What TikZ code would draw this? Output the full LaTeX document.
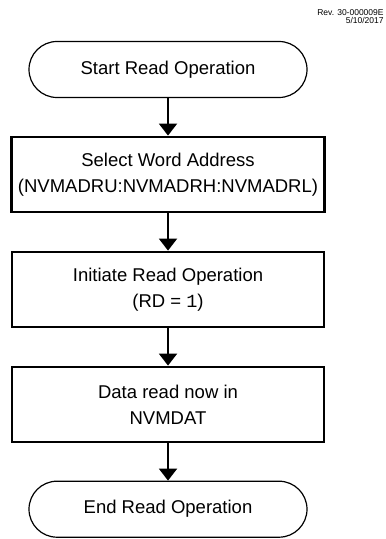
\documentclass[tikz,border=0pt]{standalone}
\usepackage{fontspec}
\setmainfont{Liberation Sans}
\newfontfamily\codefont{Liberation Mono}
\usetikzlibrary{shapes,arrows.meta,positioning}

\begin{document}
\begin{tikzpicture}[node distance=18.75pt,
    term/.style={rectangle, draw, line width=0.6pt, rounded corners=14pt, minimum width=139pt, minimum height=28pt, font=\fontsize{9.25}{13}\selectfont},
    proc/.style={rectangle, draw, line width=1.25pt, minimum width=156pt, minimum height=37.5pt, align=center, font=\fontsize{9.25}{13}\selectfont},
    arrow/.style={-{Triangle[width=9pt,length=6pt]}, line width=1pt}
]
\useasboundingbox (0,0) rectangle (192.5pt,-269.5pt);

\node[anchor=north east, inner sep=0pt, align=right, font=\fontsize{4.25}{3.9}\selectfont] (rev) at (192pt,-4.6pt) {Rev. 30-000009E\\5/10/2017};

\node[term] (start) at (84pt,-34.75pt) {Start Read Operation};
\node[proc, below=of start] (addr) {Select Word Address\\(NVMADRU:NVMADRH:NVMADRL)};
\node[proc, below=of addr] (init) {Initiate Read Operation\\(RD = {\codefont 1})};
\node[proc, below=of init] (data) {Data read now in\\NVMDAT};
\node[term, below=of data] (end) {End Read Operation};

\draw[arrow] (start) -- (addr);
\draw[arrow] (addr) -- (init);
\draw[arrow] (init) -- (data);
\draw[arrow] (data) -- (end);

\end{tikzpicture}
\end{document}
